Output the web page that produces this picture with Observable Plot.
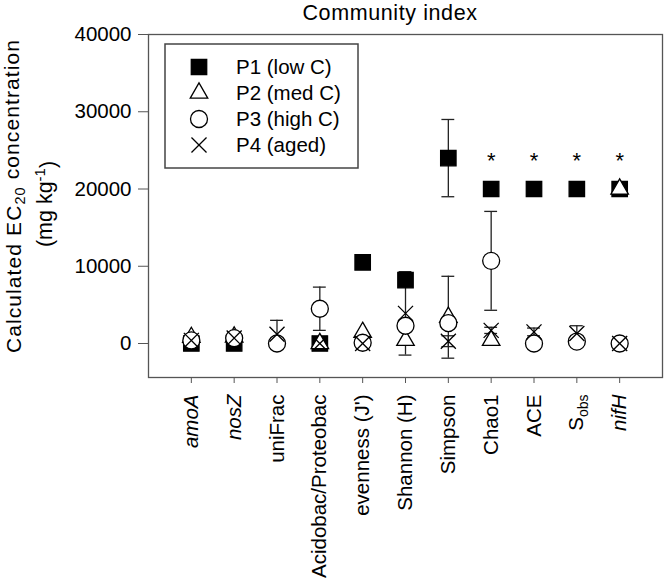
<!DOCTYPE html>
<html><head><meta charset="utf-8">
<script src="https://cdn.jsdelivr.net/npm/d3@7"></script>
<script src="https://cdn.jsdelivr.net/npm/@observablehq/plot@0.6"></script>
<style>body{margin:0;background:#fff;font-family:Arial,"Liberation Sans",sans-serif}</style>
</head><body><div id="chart"></div>
<script>
// ---- data ----
const categories = ["amoA","nosZ","uniFrac","Acidobac/Proteobac","evenness (J')","Shannon (H)","Simpson","Chao1","ACE","Sobs","nifH"];
const italicCats = ["amoA","nosZ","nifH"];
const seriesNames = ["P1 (low C)","P2 (med C)","P3 (high C)","P4 (aged)"];
const P1    = [0, 0, null, 0, 10500, 8200, 24000, 20000, 20000, 20000, 20000];
const P1err = [null, null, null, null, null, null, 5000, null, null, null, null];
const P2    = [800, 850, null, 0, 1450, 400, 3400, 400, null, null, 20000];
const P2err = [null, null, null, null, null, null, 5300, null, null, null, null];
const P3    = [400, 700, 0, 4500, 100, 2300, 2650, 10700, 0, 250, 0];
const P3err = [null, null, null, 2800, null, null, null, 6400, null, null, null];
const P4    = [400, 700, 1200, 0, 0, 3900, 300, 1700, 1500, 1300, 0];
const P4err = [null, null, 1800, null, null, 5400, 700, 400, 500, 1000, null];
const starred = ["Chao1","ACE","Sobs","nifH"];
const yTicks = [0, 10000, 20000, 30000, 40000];

// ---- styles ----
const symbols = ["square","triangle","circle","times"];
const d3symbols = [d3.symbolSquare, d3.symbolTriangle, d3.symbolCircle, d3.symbolTimes];
const fills = ["black","white","white","none"];
const radii = [8.7, 6.5, 8.5, 6.9];

const seriesVals = [P1, P2, P3, P4];
const seriesErr = [P1err, P2err, P3err, P4err];
const rows = [];
seriesVals.forEach((vals, s) => vals.forEach((v, i) => {
  if (v != null) rows.push({s, cat: categories[i], x: i + 1, y: v, err: seriesErr[s][i]});
}));
const errRows = rows.filter(d => d.err);
const capHalf = 0.15;

const plot = Plot.plot({
  width: 666, height: 583,
  marginLeft: 148, marginRight: 4, marginTop: 34, marginBottom: 206,
  style: {fontFamily: "Arial, 'Liberation Sans', sans-serif", background: "white"},
  x: {domain: [0, 12]},
  y: {domain: [-4400, 40000]},
  marks: [
    Plot.ruleX(errRows, {x: "x", y1: d => d.y - d.err, y2: d => d.y + d.err, stroke: "#222", strokeWidth: 1.3}),
    Plot.ruleY(errRows, {y: d => d.y + d.err, x1: d => d.x - capHalf, x2: d => d.x + capHalf, stroke: "#222", strokeWidth: 1.3}),
    Plot.ruleY(errRows, {y: d => d.y - d.err, x1: d => d.x - capHalf, x2: d => d.x + capHalf, stroke: "#222", strokeWidth: 1.3}),
    ...[0,1,2,3].map(s => Plot.dot(rows.filter(d => d.s === s), {
      x: "x", y: "y", symbol: () => symbols[s], r: radii[s],
      fill: fills[s], stroke: "black", strokeWidth: 1.3
    })),
    Plot.text(starred, {x: c => categories.indexOf(c) + 1, y: c => P1[categories.indexOf(c)], text: () => "*", dy: -28, fontSize: 22, fill: "black"}),
    Plot.frame({stroke: "#555", strokeWidth: 1.3}),
    Plot.axisY({ticks: yTicks, tickSize: 10, tickPadding: 7, tickFormat: d => String(d), fontSize: 20.5, label: null, stroke: "#555", fill: "black"}),
    Plot.axisX({ticks: d3.range(1, 12), tickSize: 6, tickPadding: 11, tickRotate: -90, tickFormat: i => categories[i - 1], fontSize: 20.5, label: null, stroke: "#555", fill: "black"})
  ]
});
document.getElementById("chart").appendChild(plot);

const svg = d3.select(plot);
// x tick label styling
svg.selectAll('g[aria-label="x-axis tick label"] text').each(function() {
  const t = d3.select(this);
  const txt = t.text();
  if (italicCats.includes(txt)) t.style("font-style", "italic");
  if (txt === "Sobs") {
    t.text("S");
    t.append("tspan").attr("dy", "0.3em").attr("font-size", 14).text("obs");
  }
});

// title
svg.append("text").attr("x", 390).attr("y", 20).attr("text-anchor", "middle")
  .attr("font-size", 21.5).attr("letter-spacing", "0.6px").attr("fill", "black").text("Community index");

// y label
const yl1 = svg.append("text").attr("transform", "translate(21,196) rotate(-90)")
  .attr("text-anchor", "middle").attr("font-size", 21).attr("letter-spacing", "1.1px").attr("fill", "black");
yl1.append("tspan").text("Calculated EC");
yl1.append("tspan").attr("dy", "0.3em").attr("font-size", 14.5).text("20");
yl1.append("tspan").attr("dy", "-0.3em").text(" concentration");
const yl2 = svg.append("text").attr("transform", "translate(52,204) rotate(-90)")
  .attr("text-anchor", "middle").attr("font-size", 21.5).attr("fill", "black");
yl2.append("tspan").text("(mg kg");
yl2.append("tspan").attr("dy", "-0.45em").attr("font-size", 15).text("-1");
yl2.append("tspan").attr("dy", "0.45em").text(")");

// legend
const lg = svg.append("g");
lg.append("rect").attr("x", 165).attr("y", 44).attr("width", 193).attr("height", 124)
  .attr("fill", "white").attr("stroke", "#444").attr("stroke-width", 1.5);
seriesNames.forEach((name, s) => {
  const cy = 67 + s * 26;
  lg.append("path")
    .attr("transform", `translate(199,${cy})`)
    .attr("d", d3.symbol(d3symbols[s], Math.PI * radii[s] * radii[s])())
    .attr("fill", fills[s]).attr("stroke", "black").attr("stroke-width", 1.3);
  lg.append("text").attr("x", 236).attr("y", cy).attr("dy", "0.35em")
    .attr("text-anchor", "start")
    .attr("font-size", 20.5).attr("fill", "black").text(name);
});
</script></body></html>
